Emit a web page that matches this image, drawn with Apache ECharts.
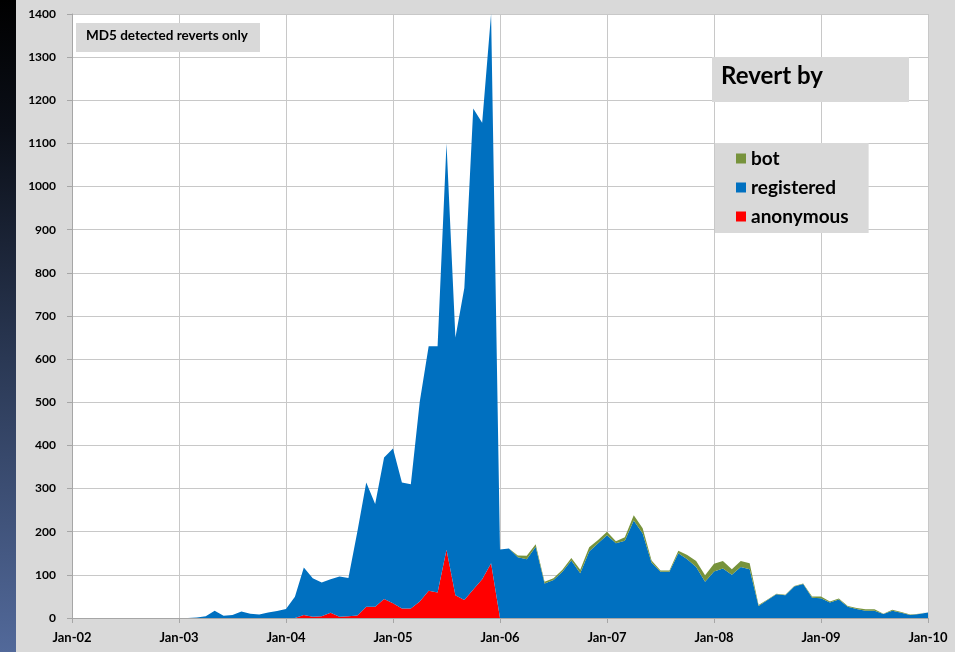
<!DOCTYPE html>
<html><head><meta charset="utf-8">
<script src="https://cdn.jsdelivr.net/npm/echarts@6/dist/echarts.min.js"></script>
<style>html,body{margin:0;padding:0;background:#d9d9d9}#c{width:955px;height:652px}</style>
</head><body><div id="c"></div><script>
const monthNames = ['Jan','Feb','Mar','Apr','May','Jun','Jul','Aug','Sep','Oct','Nov','Dec'];
const years = ['02','03','04','05','06','07','08','09','10'];
const yMin = 0, yMax = 1400, yStep = 100;

// monthly values, Jan-02 .. Jan-10 (one row per year)
const anonymous = [
  0,0,0,0,0,0,0,0,0,0,0,0,
  0,0,0,0,0,0,0,0,0,0,0,0,
  0,0,7,3,4,12,3,4,6,26,26,44,
  34,22,22,38,63,59,158,53,42,66,90,127,
  0,0,0,0,0,0,0,0,0,0,0,0,
  0,0,0,0,0,0,0,0,0,0,0,0,
  0,0,0,0,0,0,0,0,0,0,0,0,
  0,0,0,0,0,0,0,0,0,0,0,0,
  0
];
const registered = [
  0,0,0,0,0,0,0,0,0,0,0,0,
  0,0,1,4,17,5,7,15,10,8,13,16,
  21,49,110,89,78,78,93,89,194,288,238,328,
  359,292,288,463,567,571,942,597,723,1115,1058,1273,
  159,161,141,136,165,80,88,107,133,104,154,173,
  192,173,179,226,196,128,107,107,150,136,118,84,
  108,115,100,118,113,28,42,55,53,73,79,47,
  46,36,43,26,21,17,17,9,17,12,7,9,
  13
];
const bot = [
  0,0,0,0,0,0,0,0,0,0,0,0,
  0,0,0,0,0,0,0,0,0,0,0,0,
  0,0,0,0,0,0,0,0,0,0,0,0,
  0,0,0,0,0,0,0,0,0,0,0,0,
  0,0,4,8,6,4,4,5,6,8,10,8,
  8,5,8,12,12,5,3,3,6,10,14,15,
  18,17,13,14,14,2,1,1,1,1,1,3,
  4,2,2,2,2,3,3,1,2,2,1,1,
  1
];

const categories = [];
years.forEach((y, yi) => {
  monthNames.forEach(m => { if (yi < years.length - 1 || m === 'Jan') categories.push(m + '-' + y); });
});
const yearTick = (i) => i % 12 === 0;

const font = 'Lato, "Open Sans", sans-serif';
const chart = echarts.init(document.getElementById('c'), null, {renderer: 'canvas'});
chart.setOption({
  backgroundColor: '#d9d9d9',
  animation: false,
  grid: {left: 72, right: 27, top: 14, bottom: 34, show: true, backgroundColor: '#ffffff', borderWidth: 0},
  legend: {
    data: ['bot', 'registered', 'anonymous'],
    orient: 'vertical', left: 715, top: 143,
    padding: [6, 20, 7, 21], backgroundColor: '#d9d9d9',
    itemGap: 10, itemWidth: 10, itemHeight: 10, icon: 'rect',
    textStyle: {fontFamily: font, fontWeight: 'bold', fontSize: 19, color: '#000'}
  },
  xAxis: {
    type: 'category', data: categories, boundaryGap: false,
    axisLine: {lineStyle: {color: '#a6a6a6'}},
    axisTick: {interval: (i) => yearTick(i), length: 5, lineStyle: {color: '#a6a6a6'}},
    axisLabel: {interval: (i) => yearTick(i), margin: 13, fontFamily: font, fontWeight: 'bold', fontSize: 13, color: '#000'},
    splitLine: {show: true, interval: (i) => yearTick(i), lineStyle: {color: '#c8c8c8'}}
  },
  yAxis: {
    type: 'value', min: yMin, max: yMax, interval: yStep,
    axisLine: {show: true, lineStyle: {color: '#a6a6a6'}},
    axisTick: {show: true, length: 5, lineStyle: {color: '#a6a6a6'}},
    axisLabel: {margin: 16, fontFamily: font, fontWeight: 'bold', fontSize: 12, color: '#000',
                formatter: (v) => String(v)},
    splitLine: {lineStyle: {color: '#c8c8c8'}}
  },
  series: [
    {name: 'anonymous', type: 'line', stack: 'all', data: anonymous, symbol: 'none',
     lineStyle: {width: 0}, itemStyle: {color: '#ff0000'}, areaStyle: {color: '#ff0000', opacity: 1}},
    {name: 'registered', type: 'line', stack: 'all', data: registered, symbol: 'none',
     lineStyle: {width: 0}, itemStyle: {color: '#0070c0'}, areaStyle: {color: '#0070c0', opacity: 1}},
    {name: 'bot', type: 'line', stack: 'all', data: bot, symbol: 'none',
     lineStyle: {width: 0}, itemStyle: {color: '#77933c'}, areaStyle: {color: '#77933c', opacity: 1}}
  ],
  graphic: [
    {type: 'rect', left: 0, top: 0, z: 1, silent: true,
     shape: {width: 16, height: 652},
     style: {fill: new echarts.graphic.LinearGradient(0, 0, 0, 1, [
       {offset: 0, color: '#000000'}, {offset: 0.2, color: '#0b0f18'},
       {offset: 0.55, color: '#2a3854'}, {offset: 1, color: '#52699a'}])}},
    {type: 'rect', left: 76, top: 23, z: 100, shape: {width: 184, height: 29}, style: {fill: '#d9d9d9'}},
    {type: 'text', left: 86, top: 29, z: 101,
     style: {text: 'MD5 detected reverts only', fill: '#000', font: 'bold 13.5px ' + font}},
    {type: 'rect', left: 712, top: 57, z: 100, shape: {width: 197, height: 45}, style: {fill: '#d9d9d9'}},
    {type: 'text', left: 721, top: 64, z: 101,
     style: {text: 'Revert by', fill: '#000', font: 'bold 24px ' + font}}
  ]
});
</script></body></html>
